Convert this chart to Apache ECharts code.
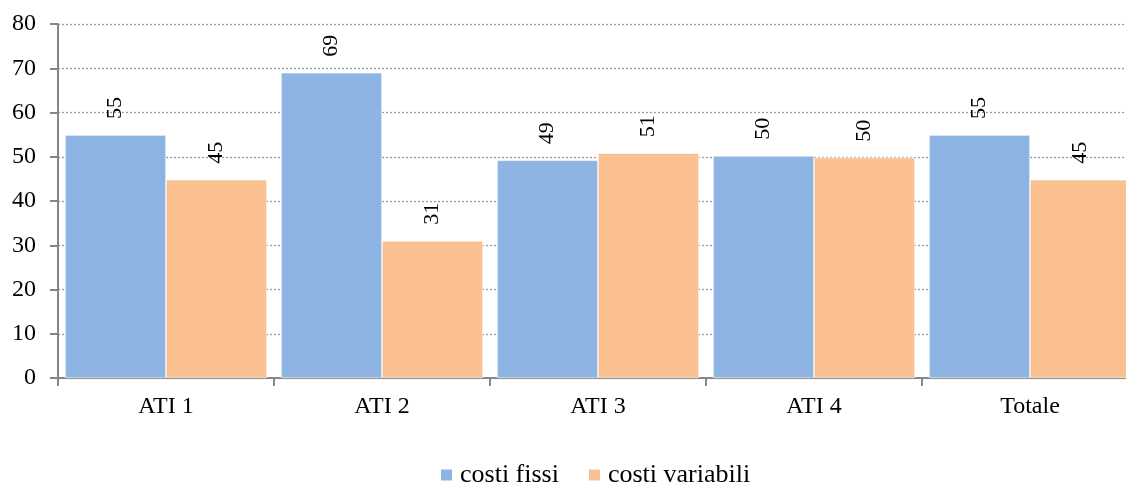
<!DOCTYPE html>
<html><head><meta charset="utf-8">
<script src="https://cdn.jsdelivr.net/npm/echarts@6/dist/echarts.min.js"></script>
<style>html,body{margin:0;padding:0;background:#fff;overflow:hidden;width:1126px;height:484px}#c{width:1140px;height:484px}</style>
</head><body><div id="c"></div>
<script>
const categories = ['ATI 1', 'ATI 2', 'ATI 3', 'ATI 4', 'Totale'];
const costiFissi = [54.9, 69, 49.2, 50.2, 54.9];
const costiVariabili = [44.8, 31, 50.8, 49.8, 44.8];
const seriesNames = ['costi fissi', 'costi variabili'];
const FONT = '"Liberation Serif", "DejaVu Serif", serif';
const chart = echarts.init(document.getElementById('c'));
const lbl = {
  show: true, position: 'top', rotate: 90, distance: 16,
  align: 'left', verticalAlign: 'middle',
  fontFamily: FONT, fontSize: 22, color: '#000',
  formatter: p => Math.round(p.value)
};
chart.setOption({
  animation: false,
  grid: { left: 58, top: 24, width: 1080, height: 354, containLabel: false },
  legend: {
    top: 462, left: 439, itemWidth: 13, itemHeight: 13, itemGap: 28, padding: 0,
    icon: 'rect',
    textStyle: { fontFamily: FONT, fontSize: 26, color: '#000', padding: [0, 0, 0, 2] },
    data: seriesNames
  },
  xAxis: {
    type: 'category', data: categories,
    axisLine: { lineStyle: { color: '#868686', width: 2 } },
    axisTick: { show: true, length: 8, lineStyle: { color: '#868686', width: 2 } },
    axisLabel: { fontFamily: FONT, fontSize: 24, color: '#000', margin: 17 }
  },
  yAxis: {
    type: 'value', min: 0, max: 80, interval: 10,
    axisLine: { show: true, lineStyle: { color: '#868686', width: 2 } },
    axisTick: { show: true, length: 8, lineStyle: { color: '#868686', width: 2 } },
    axisLabel: { fontFamily: FONT, fontSize: 24, color: '#000', margin: 22 },
    splitLine: { lineStyle: { color: '#9a9a9a', type: [2, 2], width: 1.3 } }
  },
  series: [
    { name: seriesNames[0], type: 'bar', data: costiFissi, barGap: '0%', barCategoryGap: '6.5%',
      itemStyle: { color: '#8EB4E3', borderColor: '#fff', borderWidth: 0.6 }, label: lbl },
    { name: seriesNames[1], type: 'bar', data: costiVariabili, barGap: '0%', barCategoryGap: '6.5%',
      itemStyle: { color: '#FAC090', borderColor: '#fff', borderWidth: 0.6 }, label: lbl }
  ]
});
</script></body></html>
